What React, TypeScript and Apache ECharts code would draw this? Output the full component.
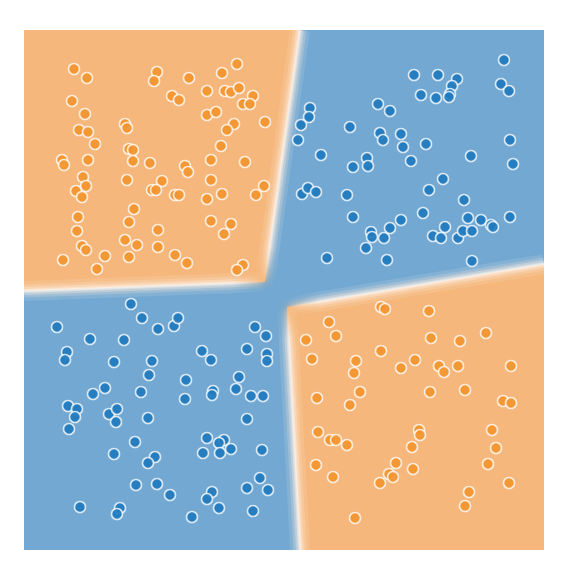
import React, { useEffect, useRef } from "react";
import * as echarts from "echarts";

// Class 0 (orange) samples, top-left cluster
const orangeTopLeft: number[][] = [
  [-2.10, 2.21], [-1.97, 2.12], [-1.27, 2.18], [-1.30, 2.09], [-0.95, 2.12],
  [-2.12, 1.89], [-1.12, 1.94], [-1.05, 1.90], [-1.99, 1.76], [-1.59, 1.66],
  [-1.57, 1.62], [-2.05, 1.60], [-1.96, 1.58], [-1.89, 1.46], [-1.55, 1.41],
  [-1.51, 1.40], [-2.22, 1.30], [-2.20, 1.25], [-1.96, 1.30], [-1.51, 1.29],
  [-1.34, 1.27], [-0.99, 1.24], [-0.96, 1.18], [-2.01, 1.13], [-1.98, 1.04],
  [-1.57, 1.10], [-1.22, 1.09], [-1.32, 1.00], [-1.28, 1.00], [-2.08, 0.99],
  [-2.02, 0.93], [-1.09, 0.95], [-1.05, 0.95], [-0.47, 2.26], [-0.62, 2.17],
  [-0.77, 1.99], [-0.59, 1.99], [-0.53, 1.98], [-0.45, 2.02], [-0.31, 1.94],
  [-0.41, 1.86], [-0.34, 1.86], [-0.77, 1.75], [-0.68, 1.78], [-0.50, 1.66],
  [-0.57, 1.60], [-0.19, 1.68], [-0.63, 1.44], [-0.73, 1.30], [-0.39, 1.28],
  [-0.73, 1.10], [-0.62, 0.96], [-0.77, 0.91], [-0.28, 0.95], [-0.20, 1.04],
  [-1.50, 0.81], [-2.06, 0.73], [-1.55, 0.68], [-2.07, 0.59], [-1.26, 0.60],
  [-2.02, 0.44], [-1.98, 0.40], [-1.59, 0.50], [-1.47, 0.45], [-1.26, 0.43],
  [-1.79, 0.34], [-1.55, 0.33], [-2.21, 0.30], [-1.87, 0.21], [-1.09, 0.35],
  [-0.97, 0.27], [-0.73, 0.69], [-0.53, 0.66], [-0.60, 0.56], [-0.41, 0.25],
  [-0.47, 0.20],
];

// Class 0 (orange) samples, bottom-right cluster
const orangeBottomRight: number[][] = [
  [0.45, -0.32], [0.52, -0.46], [0.22, -0.50], [0.28, -0.69], [0.72, -0.71],
  [0.70, -0.83], [0.97, -0.17], [1.01, -0.19], [1.45, -0.21], [1.47, -0.48],
  [1.76, -0.51], [2.02, -0.43], [0.97, -0.61], [1.31, -0.70], [1.17, -0.78],
  [1.55, -0.76], [1.60, -0.82], [1.74, -0.76], [2.27, -0.76], [0.76, -1.02],
  [0.33, -1.08], [0.66, -1.15], [0.34, -1.42], [0.46, -1.50], [0.52, -1.50],
  [0.63, -1.55], [0.32, -1.75], [0.49, -1.87], [0.71, -2.28], [1.46, -1.02],
  [1.81, -1.00], [2.19, -1.11], [2.27, -1.13], [1.35, -1.40], [1.36, -1.45],
  [2.08, -1.40], [1.28, -1.57], [2.12, -1.58], [1.12, -1.73], [1.29, -1.79],
  [2.04, -1.74], [1.05, -1.84], [1.09, -1.87], [0.96, -1.93], [2.25, -1.93],
  [1.85, -2.02], [1.81, -2.16],
];

// Class 1 (blue) samples, top-right cluster
const blueTopRight: number[][] = [
  [0.26, 1.82], [0.25, 1.73], [0.17, 1.65], [0.14, 1.50], [0.66, 1.63],
  [0.37, 1.35], [0.83, 1.32], [0.69, 1.23], [0.84, 1.24], [0.18, 0.96],
  [0.24, 1.02], [0.32, 0.98], [0.63, 0.95], [0.94, 1.86], [1.06, 1.79],
  [0.96, 1.57], [0.99, 1.50], [1.17, 1.56], [1.19, 1.43], [1.42, 1.46],
  [1.27, 1.29], [1.30, 2.15], [1.54, 2.15], [1.73, 2.11], [1.68, 2.04],
  [1.66, 1.96], [1.65, 1.93], [1.37, 1.95], [1.52, 1.92], [2.20, 2.30],
  [2.17, 2.06], [2.25, 1.99], [1.87, 1.34], [2.26, 1.50], [2.29, 1.26],
  [1.59, 1.11], [1.45, 1.00], [1.80, 0.90], [0.69, 0.73], [0.87, 0.58],
  [0.88, 0.53], [0.82, 0.42], [0.43, 0.32], [1.00, 0.52], [1.39, 0.77],
  [1.17, 0.70], [1.06, 0.62], [1.84, 0.72], [1.97, 0.70], [2.07, 0.65],
  [2.09, 0.63], [2.26, 0.73], [1.61, 0.63], [1.49, 0.54], [1.57, 0.52],
  [1.74, 0.52], [1.79, 0.59], [1.88, 0.59], [1.03, 0.30], [1.88, 0.29],
];

// Class 1 (blue) samples, bottom-left cluster
const blueBottomLeft: number[][] = [
  [-1.53, -0.14], [-1.42, -0.28], [-1.26, -0.39], [-1.10, -0.36], [-1.06, -0.28],
  [-2.27, -0.37], [-1.94, -0.49], [-1.60, -0.50], [-2.17, -0.62], [-2.19, -0.70],
  [-1.70, -0.72], [-1.32, -0.71], [-1.35, -0.85], [-0.98, -0.90], [-0.29, -0.37],
  [-0.18, -0.46], [-0.37, -0.59], [-0.82, -0.61], [-0.73, -0.70], [-0.17, -0.64],
  [-0.17, -0.71], [-0.45, -0.87], [-1.79, -0.98], [-1.91, -1.04], [-1.43, -1.02],
  [-0.99, -1.09], [-2.16, -1.16], [-2.07, -1.19], [-2.09, -1.27], [-2.15, -1.39],
  [-1.75, -1.24], [-1.67, -1.19], [-1.68, -1.32], [-1.36, -1.28], [-1.49, -1.52],
  [-1.70, -1.64], [-1.29, -1.67], [-1.36, -1.73], [-1.48, -1.95], [-1.27, -1.94],
  [-1.14, -2.05], [-2.04, -2.17], [-1.64, -2.18], [-1.67, -2.24], [-0.92, -2.27],
  [-0.71, -1.01], [-0.72, -1.05], [-0.48, -0.99], [-0.33, -1.06], [-0.21, -1.06],
  [-0.37, -1.29], [-0.77, -1.48], [-0.60, -1.50], [-0.65, -1.53], [-0.53, -1.59],
  [-0.81, -1.63], [-0.64, -1.63], [-0.22, -1.60], [-0.24, -1.88], [-0.37, -1.98],
  [-0.16, -2.00], [-0.72, -2.02], [-0.77, -2.09], [-0.65, -2.18], [-0.31, -2.21],
];

// Decision regions predicted as class 0 (orange); rest is class 1 (blue)
const orangeRegions: number[][][] = [
  [[-2.6, 2.6], [0.16, 2.6], [-0.19, 0.08], [-2.6, -0.01]],
  [[0.03, -0.17], [2.6, 0.26], [2.6, -2.6], [0.16, -2.6]],
];

// Decision boundary segments, from the plot edge towards the centre corner
const boundaries: number[][][] = [
  [[0.16, 2.6], [-0.19, 0.08]],
  [[-2.6, -0.01], [-0.19, 0.08]],
  [[2.6, 0.26], [0.03, -0.17]],
  [[0.16, -2.6], [0.03, -0.17]],
];

const AXIS_MIN = -2.6;
const AXIS_MAX = 2.6;

const ORANGE_BG = "#f5b77b";
const BLUE_BG = "#72a8d2";
const ORANGE_PT = "#f3952f";
const BLUE_PT = "#1f7bbf";

export default function App() {
  const ref = useRef<HTMLDivElement>(null);

  useEffect(() => {
    document.body.style.margin = "0";
    if (!ref.current) return;
    const chart = echarts.init(ref.current, null, { renderer: "svg" });

    const glow = [
      { w: 20, o: 0.1 },
      { w: 13, o: 0.16 },
      { w: 8, o: 0.24 },
      { w: 4, o: 0.32 },
      { w: 1.8, o: 0.35 },
    ];

    const pointStyle = (color: string) => ({
      color,
      opacity: 0.92,
      borderColor: "rgba(255,255,255,0.85)",
      borderWidth: 1.6,
    });

    chart.setOption({
      animation: false,
      grid: {
        left: 24,
        top: 30,
        width: 520,
        height: 520,
        show: true,
        backgroundColor: BLUE_BG,
        borderWidth: 0,
      },
      xAxis: { type: "value", min: AXIS_MIN, max: AXIS_MAX, show: false },
      yAxis: { type: "value", min: AXIS_MIN, max: AXIS_MAX, show: false },
      series: [
        {
          type: "custom",
          z: 1,
          silent: true,
          clip: true,
          data: orangeRegions.map((_, i) => [i, 0]),
          renderItem: (params: any, api: any) => {
            const poly = orangeRegions[params.dataIndex];
            return {
              type: "polygon",
              shape: { points: poly.map((p) => api.coord(p)) },
              style: {
                fill: ORANGE_BG,
                shadowBlur: 10,
                shadowColor: "rgba(245,183,123,0.9)",
              },
            };
          },
        },
        {
          type: "custom",
          z: 2,
          silent: true,
          clip: true,
          data: boundaries.map((_, i) => [i, 0]),
          renderItem: (params: any, api: any) => {
            const seg = boundaries[params.dataIndex];
            const a = api.coord(seg[0]);
            const b = api.coord(seg[1]);
            const len = Math.hypot(b[0] - a[0], b[1] - a[1]);
            const fade = Math.max(0, 1 - 34 / len);
            return {
              type: "group",
              children: glow.map((g) => ({
                type: "line",
                shape: { x1: a[0], y1: a[1], x2: b[0], y2: b[1] },
                style: {
                  stroke: new echarts.graphic.LinearGradient(
                    a[0], a[1], b[0], b[1],
                    [
                      { offset: 0, color: `rgba(255,255,255,${g.o})` },
                      { offset: fade, color: `rgba(255,255,255,${g.o})` },
                      { offset: 1, color: "rgba(255,255,255,0)" },
                    ],
                    true
                  ),
                  lineWidth: g.w,
                  lineCap: "butt",
                },
              })),
            };
          },
        },
        {
          type: "scatter",
          z: 5,
          symbolSize: 11,
          data: orangeTopLeft.concat(orangeBottomRight),
          itemStyle: pointStyle(ORANGE_PT),
        },
        {
          type: "scatter",
          z: 5,
          symbolSize: 11,
          data: blueTopRight.concat(blueBottomLeft),
          itemStyle: pointStyle(BLUE_PT),
        },
      ],
    });

    return () => chart.dispose();
  }, []);

  return <div ref={ref} style={{ width: 566, height: 580 }} />;
}
